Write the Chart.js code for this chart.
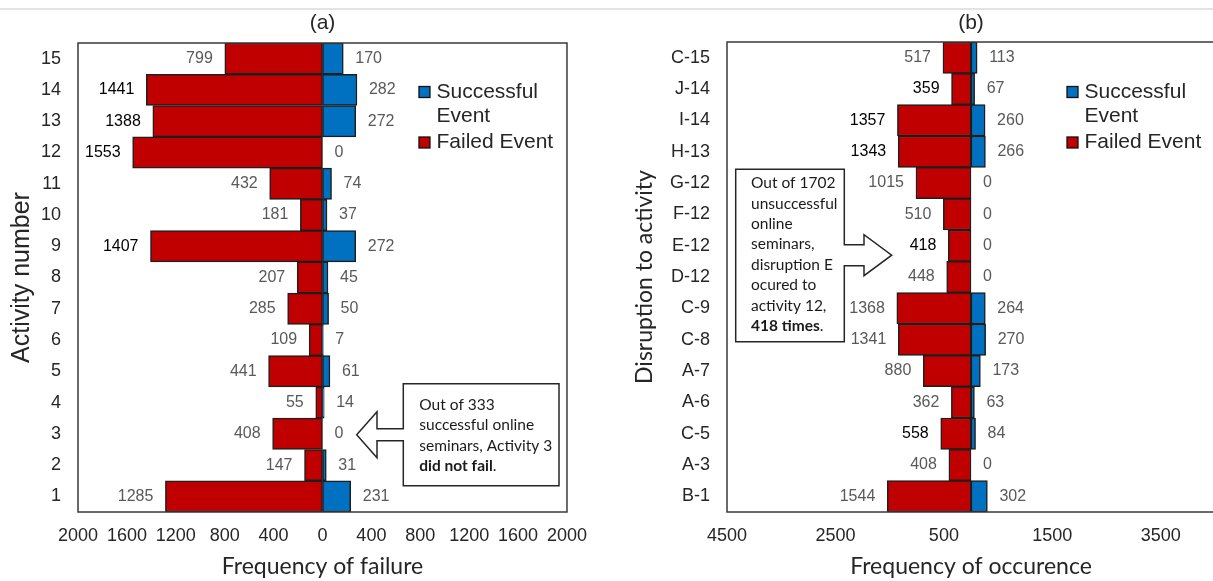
<!DOCTYPE html>
<html>
<head>
<meta charset="utf-8">
<title>Failure frequency</title>
<script src="https://cdn.jsdelivr.net/npm/chart.js@4.4.0/dist/chart.umd.min.js"></script>
<style>
  html, body { margin: 0; padding: 0; background: #fff; overflow: hidden; }
  #page { position: relative; width: 1213px; height: 581px; overflow: hidden; }
  #topline { position: absolute; left: 0; top: 8px; width: 1213px; height: 2px; background: #e3e3e3; }
  #chartA { position: absolute; left: 0; top: 0; }
  #chartB { position: absolute; left: 600px; top: 0; }
</style>
</head>
<body>
<div id="page">
  <div id="topline"></div>
  <canvas id="chartA" width="600" height="581"></canvas>
  <canvas id="chartB" width="620" height="581"></canvas>
</div>
<script>
// (a) activity number, top row first
const activities = ['15','14','13','12','11','10','9','8','7','6','5','4','3','2','1'];
const failedA  = [799, 1441, 1388, 1553, 432, 181, 1407, 207, 285, 109, 441, 55, 408, 147, 1285];
const successA = [170, 282, 272, 0, 74, 37, 272, 45, 50, 7, 61, 14, 0, 31, 231];
const ticksA = [-2000, -1600, -1200, -800, -400, 0, 400, 800, 1200, 1600, 2000];
const rangeA = [-2000, 2000];

// (b) disruption to activity, top row first
const disruptions = ['C-15','J-14','I-14','H-13','G-12','F-12','E-12','D-12','C-9','C-8','A-7','A-6','C-5','A-3','B-1'];
const failedB  = [517, 359, 1357, 1343, 1015, 510, 418, 448, 1368, 1341, 880, 362, 558, 408, 1544];
const successB = [113, 67, 260, 266, 0, 0, 0, 0, 264, 270, 173, 63, 84, 0, 302];
const ticksB = [-4500, -2500, -500, 1500, 3500];
const rangeB = [-4500, 4500];

// rows whose failed label is printed in black
const darkA = ['14', '13', '12', '9'];
const darkB = ['J-14', 'I-14', 'H-13', 'E-12', 'C-5'];

// callout texts: [text, bold]
const noteA = [
  [['Out of 333', false]],
  [['successful online', false]],
  [['seminars, Activity 3', false]],
  [['did not fail', true], ['.', false]]
];
const noteB = [
  [['Out of 1702', false]],
  [['unsuccessful', false]],
  [['online', false]],
  [['seminars,', false]],
  [['disruption E', false]],
  [['ocured to', false]],
  [['activity 12,', false]],
  [['418 times', true], ['.', false]]
];

const BLUE = '#0070C0';
const RED = '#C00000';
const ARIAL = '"Liberation Sans", Arial, sans-serif';
const CALIBRI = 'Lato, "Open Sans", sans-serif';

Chart.defaults.font.family = ARIAL;

const framePlugin = {
  id: 'frame',
  afterDatasetsDraw(chart, args, opts) {
    const { ctx, chartArea: a } = chart;
    ctx.save();
    ctx.strokeStyle = '#3a3a3a';
    ctx.lineWidth = 1.5;
    ctx.strokeRect(a.left, a.top, a.right - a.left, a.bottom - a.top);
    // panel title, centred over the plot
    ctx.fillStyle = '#262626';
    ctx.font = '21px ' + ARIAL;
    ctx.textAlign = 'center';
    ctx.textBaseline = 'middle';
    ctx.fillText(opts.text, (a.left + a.right) / 2, 23);
    ctx.restore();
  }
};

const valueLabels = {
  id: 'valueLabels',
  afterDatasetsDraw(chart, args, opts) {
    const ctx = chart.ctx;
    const succ = chart.getDatasetMeta(0);
    const fail = chart.getDatasetMeta(1);
    ctx.save();
    ctx.font = '16px ' + ARIAL;
    ctx.textBaseline = 'middle';
    chart.data.labels.forEach((lab, i) => {
      const f = fail.data[i], s = succ.data[i];
      ctx.fillStyle = opts.dark.includes(lab) ? '#000' : '#595959';
      ctx.textAlign = 'right';
      ctx.fillText(String(-chart.data.datasets[1].data[i]), f.x - 12, f.y);
      ctx.fillStyle = '#595959';
      ctx.textAlign = 'left';
      ctx.fillText(String(chart.data.datasets[0].data[i]), s.x + 12, s.y);
    });
    ctx.restore();
  }
};

const sideLegend = {
  id: 'sideLegend',
  afterDraw(chart) {
    const { ctx, chartArea: a } = chart;
    const x = a.right - 148;
    const items = chart.data.datasets.map(d => ({ color: d.backgroundColor, lines: d.legendLines }));
    let y = 92;
    ctx.save();
    ctx.font = '21px ' + ARIAL;
    ctx.textBaseline = 'middle';
    ctx.textAlign = 'left';
    items.forEach(it => {
      ctx.fillStyle = it.color;
      ctx.fillRect(x, y - 5.5, 11, 11);
      ctx.strokeStyle = '#111';
      ctx.lineWidth = 1.3;
      ctx.strokeRect(x, y - 5.5, 11, 11);
      ctx.fillStyle = '#262626';
      it.lines.forEach((t, k) => ctx.fillText(t, x + 17.5, y + k * 24));
      y += it.lines.length * 24 + 2.5;
    });
    ctx.restore();
  }
};

const callout = {
  id: 'callout',
  afterDraw(chart, args, o) {
    const { ctx, chartArea: a } = chart;
    const rowY = chart.scales.y.getPixelForValue(chart.data.labels.indexOf(o.row));
    const ty = rowY + o.dy;
    const L = a.left + o.box[0], R = a.left + o.box[1];
    const T = ty - o.up, B = ty + o.down;
    const hb = a.left + o.head, tip = a.left + o.tip;
    let pts;
    if (o.dir === 'left') {
      pts = [[L, T], [R, T], [R, B], [L, B], [L, ty + o.shaft], [hb, ty + o.shaft], [hb, ty + o.half],
             [tip, ty], [hb, ty - o.half], [hb, ty - o.shaft], [L, ty - o.shaft]];
    } else {
      pts = [[L, T], [R, T], [R, ty - o.shaft], [hb, ty - o.shaft], [hb, ty - o.half], [tip, ty],
             [hb, ty + o.half], [hb, ty + o.shaft], [R, ty + o.shaft], [R, B], [L, B]];
    }
    ctx.save();
    ctx.beginPath();
    pts.forEach((p, i) => i ? ctx.lineTo(p[0], p[1]) : ctx.moveTo(p[0], p[1]));
    ctx.closePath();
    ctx.fillStyle = '#fff';
    ctx.fill();
    ctx.strokeStyle = '#262626';
    ctx.lineWidth = 1.5;
    ctx.stroke();
    ctx.fillStyle = '#1a1a1a';
    ctx.textBaseline = 'middle';
    ctx.textAlign = 'left';
    o.lines.forEach((segs, k) => {
      let x = L + o.pad;
      const y = T + o.first + k * o.step;
      segs.forEach(([t, bold]) => {
        ctx.font = (bold ? 'bold ' : '') + '15.5px ' + CALIBRI;
        ctx.fillText(t, x, y);
        x += ctx.measureText(t).width;
      });
    });
    ctx.restore();
  }
};

function makeChart(id, cats, succ, fail, ticks, range, cfg) {
  return new Chart(document.getElementById(id), {
    type: 'bar',
    data: {
      labels: cats,
      datasets: [
        { label: 'Successful Event', legendLines: ['Successful', 'Event'], data: succ, backgroundColor: BLUE },
        { label: 'Failed Event', legendLines: ['Failed Event'], data: fail.map(v => -v), backgroundColor: RED }
      ]
    },
    options: {
      indexAxis: 'y',
      responsive: false,
      animation: false,
      layout: { padding: { top: cfg.top, right: cfg.right, left: 0, bottom: 0 } },
      datasets: {
        bar: { categoryPercentage: 1, barPercentage: 1, borderColor: '#1e1e1e', borderWidth: 1.5, borderSkipped: false }
      },
      scales: {
        x: {
          stacked: true,
          min: range[0],
          max: range[1],
          afterBuildTicks: s => { s.ticks = ticks.map(v => ({ value: v })); },
          afterFit: s => { s.height = 69; },
          grid: { display: false, drawTicks: false },
          border: { display: false },
          ticks: { callback: v => Math.abs(v), font: { size: 18 }, color: '#262626', padding: 13, maxRotation: 0, autoSkip: false },
          title: { display: true, text: cfg.xTitle, font: { family: CALIBRI, size: 23 }, color: '#262626', padding: { top: 0, bottom: 1 } }
        },
        y: {
          stacked: true,
          afterFit: s => { s.width = cfg.yWidth; },
          grid: { display: false, drawTicks: false },
          border: { display: false },
          ticks: { font: { size: 18 }, color: '#262626', padding: 17, autoSkip: false },
          title: { display: true, text: cfg.yTitle, font: cfg.yFont, color: '#262626', padding: { top: cfg.yPad, bottom: 0 } }
        }
      },
      plugins: {
        legend: { display: false },
        title: { display: false },
        tooltip: { enabled: false },
        frame: { text: cfg.title },
        valueLabels: { dark: cfg.dark },
        callout: cfg.callout
      }
    },
    plugins: [framePlugin, valueLabels, sideLegend, callout]
  });
}

Promise.all([
  document.fonts.load('16px Lato'),
  document.fonts.load('bold 16px Lato'),
  document.fonts.load('16px "Liberation Sans"')
]).catch(() => {}).then(() => {
  makeChart('chartA', activities, successA, failedA, ticksA, rangeA, {
    top: 43, right: 27, yWidth: 78, title: '(a)', dark: darkA,
    xTitle: 'Frequency of failure', yTitle: 'Activity number',
    yFont: { family: ARIAL, size: 25 }, yPad: 7,
    callout: { row: '3', dy: 1, dir: 'left', box: [325.3, 481], head: 299, tip: 278.7,
               up: 51, down: 51, shaft: 6, half: 23, pad: 16, first: 21, step: 20.5, lines: noteA }
  });
  makeChart('chartB', disruptions, successB, failedB, ticksB, rangeB, {
    top: 42, right: 5, yWidth: 127, title: '(b)', dark: darkB,
    xTitle: 'Frequency of occurence', yTitle: 'Disruption to activity',
    yFont: { family: CALIBRI, size: 23 }, yPad: 30.5,
    callout: { row: 'E-12', dy: 9.5, dir: 'right', box: [8.7, 117.3], head: 137, tip: 164.7,
               up: 86, down: 86.7, shaft: 10.5, half: 20.5, pad: 15.3, first: 14, step: 20.4, lines: noteB }
  });
});
</script>
</body>
</html>
